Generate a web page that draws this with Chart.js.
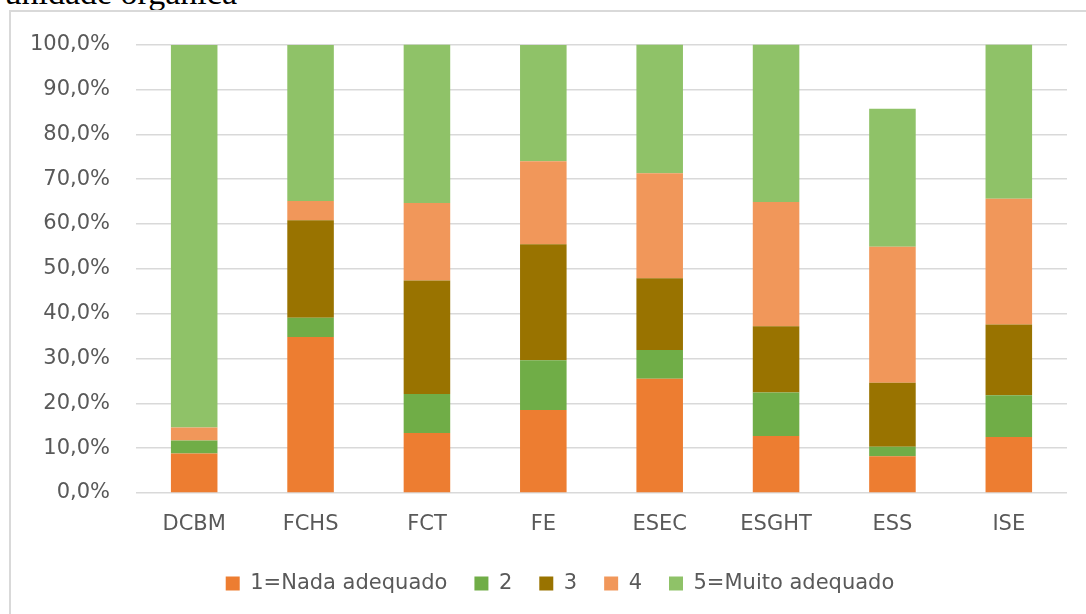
<!DOCTYPE html>
<html>
<head>
<meta charset="utf-8">
<script src="https://cdn.jsdelivr.net/npm/chart.js@4"></script>
<style>
html,body{margin:0;padding:0;background:#fff;}
body{width:1086px;height:614px;overflow:hidden;position:relative;}
#title{position:absolute;right:849px;top:-24px;font-family:"Liberation Serif","Times New Roman",serif;font-size:34px;line-height:33px;color:#000;white-space:nowrap;}
#frame{position:absolute;left:9px;top:10px;width:1200px;height:700px;border-left:2px solid #d9d9d9;border-top:2px solid #d9d9d9;}
#c{position:absolute;left:11px;top:6px;}
</style>
</head>
<body>
<div id="title">unidade orgânica</div>
<div id="frame"></div>
<canvas id="c" width="1098" height="598"></canvas>
<script>
const categories = ['DCBM','FCHS','FCT','FE','ESEC','ESGHT','ESS','ISE'];
const seriesNames = ['1=Nada adequado','2','3','4','5=Muito adequado'];
const s1 = [8.8, 34.8, 13.4, 18.5, 25.5, 12.7, 8.2, 12.5];
const s2 = [2.9, 4.3, 8.7, 11.1, 6.4, 9.7, 2.1, 9.3];
const s3 = [0, 21.7, 25.3, 25.9, 16.0, 14.8, 14.3, 15.8];
const s4 = [2.9, 4.3, 17.3, 18.5, 23.4, 27.7, 30.3, 28.0];
const s5 = [85.3, 34.8, 35.3, 25.9, 28.7, 35.1, 30.8, 34.4];
const yTicks = [0,10,20,30,40,50,60,70,80,90,100];

const colors = ['#ED7D31','#70AD47','#997300','#F1975A','#8FC268'];
const values = [s1,s2,s3,s4,s5];
const FONT = '"DejaVu Sans", sans-serif';

new Chart(document.getElementById('c'), {
  type: 'bar',
  data: {
    labels: categories,
    datasets: values.map((v,i)=>({
      label: seriesNames[i],
      data: v,
      backgroundColor: colors[i],
      borderWidth: 0,
      categoryPercentage: 1,
      barPercentage: 0.4
    }))
  },
  options: {
    responsive: false,
    animation: false,
    layout: { padding: { top: 25, right: 0, bottom: 0, left: 0 } },
    plugins: {
      tooltip: { enabled: false },
      legend: {
        position: 'bottom',
        labels: {
          font: { family: FONT, size: 21 },
          color: '#595959',
          boxWidth: 14,
          boxHeight: 14,
          padding: 27
        }
      }
    },
    scales: {
      x: {
        stacked: true,
        grid: { display: false, drawTicks: false },
        border: { display: false },
        ticks: { font: { family: FONT, size: 21 }, color: '#595959', padding: 19 },
        afterFit: (s) => { s.height = 53; }
      },
      y: {
        stacked: true,
        min: 0, max: 100,
        afterBuildTicks: (s) => { s.ticks = yTicks.map(v => ({ value: v })); },
        grid: { color: '#d9d9d9', lineWidth: 1.5, drawTicks: false },
        border: { display: false },
        ticks: {
          font: { family: FONT, size: 21 },
          color: '#595959',
          padding: 26,
          callback: (v) => v.toFixed(1).replace('.', ',') + '%'
        },
        afterFit: (s) => { s.width = 125; }
      },
      yRight: {
        position: 'right',
        display: true,
        grid: { display: false, drawTicks: false },
        border: { display: false },
        ticks: { display: false },
        afterFit: (s) => { s.width = 42; }
      }
    }
  }
});
</script>
</body>
</html>
